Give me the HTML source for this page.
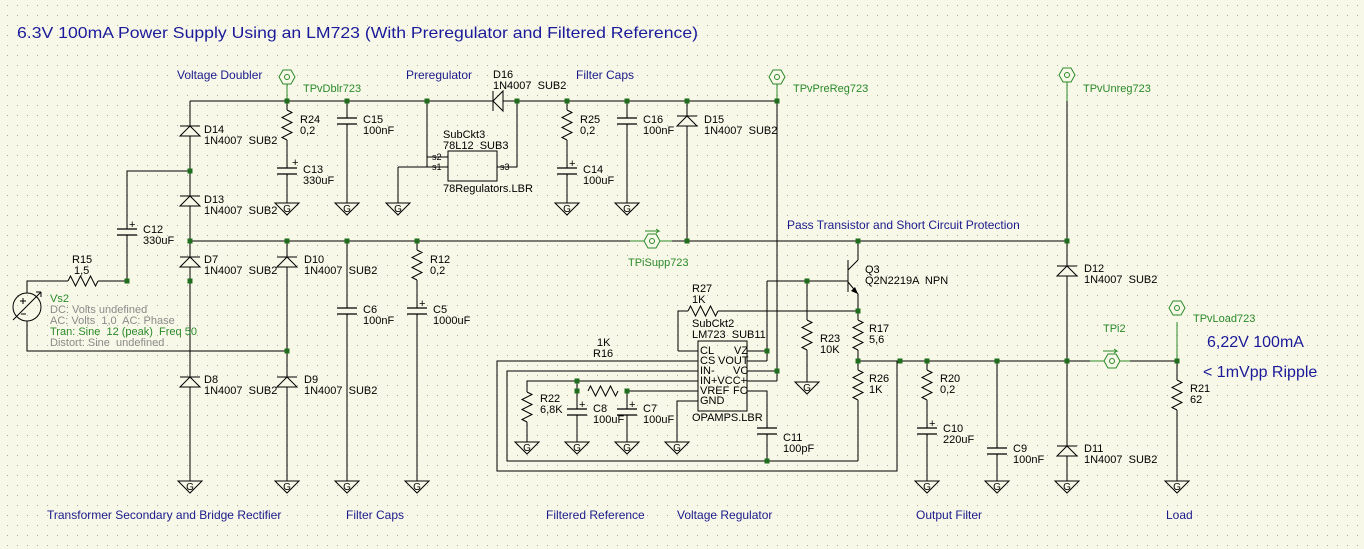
<!DOCTYPE html>
<html><head><meta charset="utf-8"><style>
html,body{margin:0;padding:0;background:#f8f8e8}
svg{display:block}
text{font-family:"Liberation Sans",sans-serif;font-size:11px;fill:#000;white-space:pre}
.b{fill:#1a1a8c;font-size:12px}
.g{fill:#2a8a2a;font-size:11px}
.gr{fill:#8a8a8a;font-size:11px}
.gt{font-size:10px;text-anchor:middle}
</style></head><body>
<svg width="1364" height="549" viewBox="0 0 1364 549" xmlns="http://www.w3.org/2000/svg" xml:space="preserve">
<defs>
<pattern id="grid" x="7" y="5" width="10" height="10" patternUnits="userSpaceOnUse"><rect x="0" y="0" width="1" height="1" fill="#a8a8a0"/></pattern>
<g id="rv"><rect x="-6" y="0" width="12" height="30" fill="#f8f8e8"/><path d="M0 0 l5 2.5 l-10 5 l10 5 l-10 5 l10 5 l-10 5 l5 2.5" fill="none" stroke="#000"/></g>
<g id="rh"><rect x="0" y="-6" width="30" height="12" fill="#f8f8e8"/><path d="M0 0 l2.5 -5 l5 10 l5 -10 l5 10 l5 -10 l5 10 l2.5 -5" fill="none" stroke="#000"/></g>
<g id="cv"><rect x="-11" y="0" width="22" height="6" fill="#f8f8e8"/><path d="M-10 0 H10 M-10 6 H10" stroke="#000" stroke-width="1.3"/></g>
<g id="du"><polygon points="-10,5 10,5 0,-5" fill="#f8f8e8" stroke="#000"/><path d="M-10 -5 H10" stroke="#000"/></g>
<g id="gnd"><polygon points="-12,0 12,0 0,12" fill="#f8f8e8" stroke="#000"/></g>
<g id="tp"><polygon points="-4,-7 4,-7 8,0 4,7 -4,7 -8,0" fill="#f8f8e8" stroke="#2a8a2a"/><circle r="2.5" fill="none" stroke="#2a8a2a"/></g>
<rect id="dot" x="-2.5" y="-2.5" width="5" height="5" fill="#1e6e1e"/>
</defs>
<rect width="1364" height="549" fill="#f8f8e8"/>
<rect width="1364" height="549" fill="url(#grid)"/>

<g stroke="#000" fill="none" stroke-width="1">
<path d="M190 101 H777 M190 101 V481 M190 171 H127 V281 H27 V293 M27 321 V351 H287"/>
<path d="M287 87 V203 M347 101 V203 M287 241 V481 M347 241 V481 M417 241 V481"/>
<path d="M427 101 V167 M427 157 H448 M398 167 H448 V167 M398 167 V203 M497 167 H517 V101"/>
<path d="M567 101 V203 M627 101 V203 M687 101 V241 M777 87 V381 M190 241 H1067 M1067 87 V481"/>
<path d="M858 241 V260 M848 260 V292 M848 270 L858 260 M848 282 L858 294 V461 M767 281 H848 M767 281 V361 M747 361 H767 M747 351 H767 M747 371 H777 M747 381 H777"/>
<path d="M678 351 H698 M678 351 V311 H858 M858 461 H507 V371 H698 M897 361 V471 H497 V361 H698"/>
<path d="M807 281 V382 M698 381 H527 V442 M577 381 V442 M698 391 H627 V442 M698 401 H677 V442 M747 391 H767 V461"/>
<path d="M858 361 H1177 M927 361 V481 M997 361 V481 M1177 330 V481"/>
<rect x="448" y="151" width="49" height="30"/>
<rect x="698" y="341" width="49" height="70"/>
<circle cx="27" cy="307" r="14"/>
<path d="M13 320 L41 292 M41 292 l-5 0 M41 292 l0 5"/>
</g>
<polygon points="858,294 851,291 855,287" fill="#000"/>
<path d="M20 301 h6 M23 298 v6 M21 314 h5" stroke="#000"/>

<use href="#rv" x="287" y="110"/><use href="#rv" x="417" y="250"/><use href="#rv" x="567" y="110"/>
<use href="#rv" x="858" y="320"/><use href="#rv" x="858" y="370"/><use href="#rv" x="807" y="320"/>
<use href="#rv" x="527" y="392"/><use href="#rv" x="927" y="370"/><use href="#rv" x="1177" y="380"/>
<use href="#rh" x="68" y="281"/><use href="#rh" x="688" y="311"/><use href="#rh" x="588" y="391"/>
<use href="#cv" x="347" y="118"/><use href="#cv" x="287" y="168"/><use href="#cv" x="127" y="229"/>
<use href="#cv" x="347" y="308"/><use href="#cv" x="417" y="308"/><use href="#cv" x="567" y="168"/>
<use href="#cv" x="627" y="118"/><use href="#cv" x="577" y="409"/><use href="#cv" x="627" y="409"/>
<use href="#cv" x="767" y="428"/><use href="#cv" x="927" y="428"/><use href="#cv" x="997" y="448"/>
<g font-size="11"><text x="292" y="166">+</text><text x="129" y="228">+</text><text x="419" y="307">+</text><text x="569" y="167">+</text><text x="579" y="408">+</text><text x="629" y="408">+</text><text x="929" y="427">+</text></g>
<use href="#du" x="190" y="131"/><use href="#du" x="190" y="201"/><use href="#du" x="190" y="262"/>
<use href="#du" x="287" y="262"/><use href="#du" x="190" y="382"/><use href="#du" x="287" y="382"/>
<use href="#du" x="687" y="121"/><use href="#du" x="1067" y="271"/><use href="#du" x="1067" y="451"/>
<g transform="translate(498,101) rotate(-90)"><use href="#du"/></g>
<g>
<use href="#gnd" x="287" y="203"/><use href="#gnd" x="347" y="203"/><use href="#gnd" x="398" y="203"/><use href="#gnd" x="567" y="203"/><use href="#gnd" x="627" y="203"/>
<use href="#gnd" x="190" y="481"/><use href="#gnd" x="287" y="481"/><use href="#gnd" x="347" y="481"/><use href="#gnd" x="417" y="481"/>
<use href="#gnd" x="807" y="382"/><use href="#gnd" x="527" y="442"/><use href="#gnd" x="577" y="442"/><use href="#gnd" x="627" y="442"/><use href="#gnd" x="677" y="442"/>
<use href="#gnd" x="927" y="481"/><use href="#gnd" x="997" y="481"/><use href="#gnd" x="1067" y="481"/><use href="#gnd" x="1177" y="481"/>
</g>
<g>
<text class="gt" x="287" y="212">G</text><text class="gt" x="347" y="212">G</text><text class="gt" x="398" y="212">G</text><text class="gt" x="567" y="212">G</text><text class="gt" x="627" y="212">G</text>
<text class="gt" x="190" y="490">G</text><text class="gt" x="287" y="490">G</text><text class="gt" x="347" y="490">G</text><text class="gt" x="417" y="490">G</text>
<text class="gt" x="807" y="391">G</text><text class="gt" x="527" y="451">G</text><text class="gt" x="577" y="451">G</text><text class="gt" x="627" y="451">G</text><text class="gt" x="677" y="451">G</text>
<text class="gt" x="927" y="490">G</text><text class="gt" x="997" y="490">G</text><text class="gt" x="1067" y="490">G</text><text class="gt" x="1177" y="490">G</text>
</g>
<path d="M287 80 V101 M777 80 V101 M1067 80 V101 M1177 322 V361" stroke="#2a8a2a"/>
<path d="M630 241 H672 M1090 361 H1130 M645 231 h14 l-3 -2 M659 231 l-3 2 M1103 351 h14 l-3 -2 M1117 351 l-3 2" stroke="#2a8a2a" fill="none"/>
<use href="#tp" x="287" y="77"/><use href="#tp" x="777" y="77"/><use href="#tp" x="1067" y="75"/><use href="#tp" x="1177" y="308"/>
<use href="#tp" x="652" y="241"/><use href="#tp" x="1112" y="361"/>
<g>
<use href="#dot" x="287" y="101"/><use href="#dot" x="347" y="101"/><use href="#dot" x="427" y="101"/><use href="#dot" x="517" y="101"/><use href="#dot" x="567" y="101"/><use href="#dot" x="627" y="101"/><use href="#dot" x="687" y="101"/><use href="#dot" x="777" y="101"/>
<use href="#dot" x="190" y="171"/><use href="#dot" x="190" y="241"/><use href="#dot" x="190" y="281"/><use href="#dot" x="127" y="281"/>
<use href="#dot" x="287" y="241"/><use href="#dot" x="347" y="241"/><use href="#dot" x="417" y="241"/><use href="#dot" x="687" y="241"/><use href="#dot" x="858" y="241"/><use href="#dot" x="1067" y="241"/>
<use href="#dot" x="287" y="351"/><use href="#dot" x="807" y="281"/><use href="#dot" x="858" y="311"/><use href="#dot" x="858" y="361"/><use href="#dot" x="767" y="351"/><use href="#dot" x="777" y="371"/>
<use href="#dot" x="577" y="381"/><use href="#dot" x="577" y="391"/><use href="#dot" x="627" y="391"/><use href="#dot" x="767" y="461"/>
<use href="#dot" x="900" y="361"/><use href="#dot" x="927" y="361"/><use href="#dot" x="997" y="361"/><use href="#dot" x="1067" y="361"/><use href="#dot" x="1177" y="361"/>
</g>

<text x="17" y="38" style="font-size:16px;fill:#1a1a9a" textLength="681" lengthAdjust="spacingAndGlyphs">6.3V 100mA Power Supply Using an LM723 (With Preregulator and Filtered Reference)</text>
<text class="b" x="177" y="79">Voltage Doubler</text>
<text class="b" x="406" y="79">Preregulator</text>
<text class="b" x="576" y="79">Filter Caps</text>
<text class="b" x="787" y="229">Pass Transistor and Short Circuit Protection</text>
<text class="b" x="47" y="519">Transformer Secondary and Bridge Rectifier</text>
<text class="b" x="346" y="519">Filter Caps</text>
<text class="b" x="546" y="519">Filtered Reference</text>
<text class="b" x="677" y="519">Voltage Regulator</text>
<text class="b" x="916" y="519">Output Filter</text>
<text class="b" x="1166" y="519">Load</text>
<text x="1207" y="347" style="font-size:16px;fill:#1a1a9a">6,22V 100mA</text>
<text x="1203" y="377" style="font-size:16px;fill:#1a1a9a">&lt; 1mVpp Ripple</text>

<text class="g" x="303" y="92">TPvDblr723</text>
<text class="g" x="793" y="92">TPvPreReg723</text>
<text class="g" x="1083" y="92">TPvUnreg723</text>
<text class="g" x="628" y="266">TPiSupp723</text>
<text class="g" x="1103" y="332">TPi2</text>
<text class="g" x="1193" y="322">TPvLoad723</text>

<text x="204" y="133">D14</text><text x="204" y="144">1N4007  SUB2</text>
<text x="204" y="203">D13</text><text x="204" y="214">1N4007  SUB2</text>
<text x="204" y="263">D7</text><text x="204" y="274">1N4007  SUB2</text>
<text x="304" y="263">D10</text><text x="304" y="274">1N4007  SUB2</text>
<text x="204" y="383">D8</text><text x="204" y="394">1N4007  SUB2</text>
<text x="304" y="383">D9</text><text x="304" y="394">1N4007  SUB2</text>
<text x="300" y="123">R24</text><text x="300" y="134">0,2</text>
<text x="363" y="123">C15</text><text x="363" y="134">100nF</text>
<text x="303" y="173">C13</text><text x="303" y="184">330uF</text>
<text x="143" y="233">C12</text><text x="143" y="244">330uF</text>
<text x="72" y="263">R15</text><text x="74" y="274">1,5</text>
<text class="g" x="50" y="302">Vs2</text>
<text class="gr" x="50" y="313">DC: Volts undefined</text>
<text class="gr" x="50" y="324">AC: Volts  1,0  AC: Phase</text>
<text class="g" x="50" y="335">Tran: Sine  12 (peak)  Freq 50</text>
<text class="gr" x="50" y="346">Distort: Sine  undefined</text>
<text x="430" y="263">R12</text><text x="430" y="274">0,2</text>
<text x="363" y="313">C6</text><text x="363" y="324">100nF</text>
<text x="433" y="313">C5</text><text x="433" y="324">1000uF</text>
<text x="493" y="78">D16</text><text x="493" y="89">1N4007  SUB2</text>
<text x="443" y="138">SubCkt3</text><text x="443" y="149">78L12  SUB3</text>
<text x="443" y="192">78Regulators.LBR</text>
<text x="432" y="160" style="font-size:9px">s2</text><text x="432" y="170" style="font-size:9px">s1</text><text x="500" y="170" style="font-size:9px">s3</text>
<text x="580" y="123">R25</text><text x="580" y="134">0,2</text>
<text x="583" y="173">C14</text><text x="583" y="184">100uF</text>
<text x="643" y="123">C16</text><text x="643" y="134">100nF</text>
<text x="704" y="123">D15</text><text x="704" y="134">1N4007  SUB2</text>
<text x="865" y="273">Q3</text><text x="865" y="284">Q2N2219A  NPN</text>
<text x="692" y="292">R27</text><text x="692" y="303">1K</text>
<text x="692" y="327">SubCkt2</text><text x="692" y="338">LM723  SUB11</text>
<text x="597" y="346">1K</text><text x="593" y="357">R16</text>
<g style="font-size:10px">
<text x="700" y="354">CL</text><text x="734" y="354">VZ</text>
<text x="700" y="364">CS</text><text x="718" y="364">VOUT</text>
<text x="700" y="374">IN-</text><text x="733" y="374">VC</text>
<text x="700" y="384">IN+VCC+</text>
<text x="700" y="394">VREF</text><text x="733" y="394">FC</text>
<text x="700" y="404">GND</text>
</g>
<text x="692" y="421">OPAMPS.LBR</text>
<text x="820" y="342">R23</text><text x="820" y="353">10K</text>
<text x="869" y="332">R17</text><text x="869" y="343">5,6</text>
<text x="869" y="382">R26</text><text x="869" y="393">1K</text>
<text x="540" y="402">R22</text><text x="540" y="413">6,8K</text>
<text x="593" y="412">C8</text><text x="593" y="423">100uF</text>
<text x="643" y="412">C7</text><text x="643" y="423">100uF</text>
<text x="783" y="441">C11</text><text x="783" y="452">100pF</text>
<text x="940" y="382">R20</text><text x="940" y="393">0,2</text>
<text x="943" y="432">C10</text><text x="943" y="443">220uF</text>
<text x="1013" y="452">C9</text><text x="1013" y="463">100nF</text>
<text x="1084" y="272">D12</text><text x="1084" y="283">1N4007  SUB2</text>
<text x="1084" y="452">D11</text><text x="1084" y="463">1N4007  SUB2</text>
<text x="1190" y="392">R21</text><text x="1190" y="403">62</text>
</svg>
</body></html>
